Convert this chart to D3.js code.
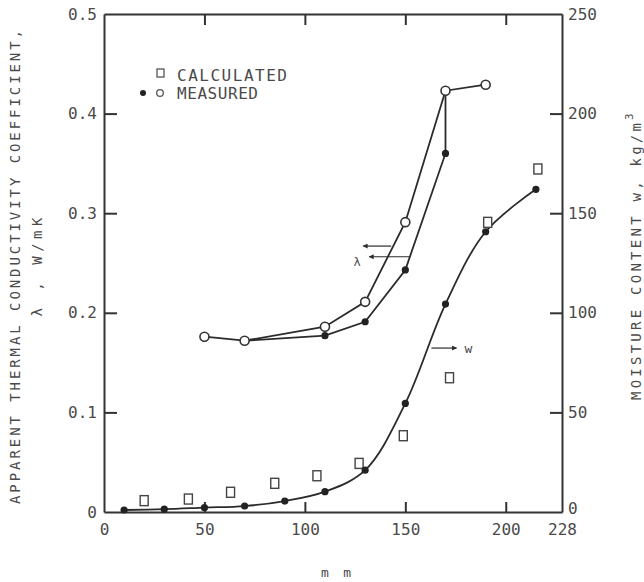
<!DOCTYPE html>
<html>
<head>
    <meta charset="utf-8">
    <title>Apparent thermal conductivity and moisture content</title>
    <script src="https://cdn.jsdelivr.net/npm/d3@7"></script>
    <style>
        body {
            margin: 0;
            background: white;
        }
        text {
            font-family: "DejaVu Sans Mono", monospace;
            fill: #4a4a4a;
        }
        .axis path, .axis line {
            stroke: #333;
            stroke-width: 2;
        }
        .axis text {
            font-family: "DejaVu Sans Mono", monospace;
            font-size: 16px;
            fill: #4a4a4a;
        }
        .data-line {
            fill: none;
            stroke: #2b2b2b;
            stroke-width: 1.8;
        }
    </style>
</head>
<body>
    <div id="chart"></div>
    <script>
        // lambda, measured - open circles
        const lamOpenX = [50, 70, 110, 130, 150, 170, 190];
        const lamOpenY = [0.176, 0.172, 0.186, 0.211, 0.291, 0.423, 0.429];
        // lambda, measured - filled dots
        const lamFillX = [110, 130, 150, 170];
        const lamFillY = [0.177, 0.191, 0.243, 0.360];
        // moisture content w, measured
        const wMeasX = [10, 30, 50, 70, 90, 110, 130, 150, 170, 190, 215];
        const wMeasY = [1, 1.4, 2.2, 3, 5.5, 10.2, 21, 54.5, 104.4, 140.7, 162];
        // moisture content w, calculated
        const wCalcX = [20, 42, 63, 85, 106, 127, 149, 172, 191, 216];
        const wCalcY = [5.7, 6.5, 9.9, 14.4, 18.2, 24.4, 38.3, 67.4, 145.4, 172.2];

        // tick labels
        const xTicks = [0, 50, 100, 150, 200, 228];
        const lamTicks = [0, 0.1, 0.2, 0.3, 0.4, 0.5];
        const wTicks = [0, 50, 100, 150, 200, 250];

        const W = 644, H = 582;
        const plot = {left: 104, right: 562, top: 14, bottom: 512};

        const svg = d3.select("#chart")
            .append("svg")
            .attr("width", W)
            .attr("height", H);

        const x = d3.scaleLinear().domain([0, 228]).range([plot.left, plot.right]);
        const yL = d3.scaleLinear().domain([0, 0.5]).range([plot.bottom, plot.top]);
        const yR = d3.scaleLinear().domain([0, 250]).range([plot.bottom, plot.top]);

        // arrow head
        svg.append("defs").append("marker")
            .attr("id", "arrow")
            .attr("viewBox", "0 0 10 10")
            .attr("refX", 9).attr("refY", 5)
            .attr("markerWidth", 7).attr("markerHeight", 5)
            .attr("markerUnits", "userSpaceOnUse")
            .attr("orient", "auto")
            .append("path")
            .attr("d", "M0,0 L10,5 L0,10 z")
            .attr("fill", "#2b2b2b");

        // axes (ticks point inward)
        const bottomAxis = svg.append("g")
            .attr("class", "axis")
            .attr("transform", `translate(0,${plot.bottom})`)
            .call(d3.axisBottom(x).tickValues(xTicks).tickSizeInner(-10).tickSizeOuter(0).tickPadding(12));
        bottomAxis.selectAll(".tick line").filter(d => d === 0 || d === 228).remove();

        svg.append("g")
            .attr("class", "axis")
            .attr("transform", `translate(0,${plot.top})`)
            .call(d3.axisTop(x).tickValues([50, 100, 150, 200]).tickSizeInner(-11).tickSizeOuter(0).tickFormat(""));

        const leftAxis = svg.append("g")
            .attr("class", "axis")
            .attr("transform", `translate(${plot.left},0)`)
            .call(d3.axisLeft(yL).tickValues(lamTicks).tickSizeInner(-13).tickSizeOuter(0).tickPadding(7)
                .tickFormat(d => d === 0 ? "0" : d.toFixed(1)));
        leftAxis.selectAll(".tick line").filter(d => d === 0 || d === 0.5).remove();

        const rightAxis = svg.append("g")
            .attr("class", "axis")
            .attr("transform", `translate(${plot.right},0)`)
            .call(d3.axisRight(yR).tickValues(wTicks).tickSizeInner(-12).tickSizeOuter(0).tickPadding(6));
        rightAxis.selectAll(".tick line").filter(d => d === 0 || d === 250).remove();
        // lift the right-hand 0 a little so it clears the 228 below it
        rightAxis.selectAll(".tick text").filter(d => d === 0).attr("dy", "0.12em");

        // axis titles
        svg.append("text")
            .attr("transform", "translate(20,267) rotate(-90)")
            .attr("text-anchor", "middle")
            .attr("font-size", 14)
            .attr("textLength", 474)
            .attr("lengthAdjust", "spacing")
            .text("APPARENT THERMAL CONDUCTIVITY COEFFICIENT,");

        svg.append("text")
            .attr("transform", "translate(42,267) rotate(-90)")
            .attr("text-anchor", "middle")
            .attr("font-size", 14)
            .attr("textLength", 99)
            .attr("lengthAdjust", "spacing")
            .text("λ , W/mK");

        svg.append("text")
            .attr("transform", "translate(641,400) rotate(-90)")
            .attr("font-size", 14)
            .attr("textLength", 277)
            .attr("lengthAdjust", "spacing")
            .text("MOISTURE CONTENT  w, kg/m");

        svg.append("text")
            .attr("transform", "translate(641,400) rotate(-90)")
            .attr("x", 280).attr("y", -8)
            .attr("font-size", 11)
            .text("3");

        svg.append("text")
            .attr("x", 336).attr("y", 577)
            .attr("text-anchor", "middle")
            .attr("font-size", 13)
            .attr("textLength", 30)
            .attr("lengthAdjust", "spacing")
            .text("mm");

        // lines
        const lamOpen = lamOpenX.map((d, i) => [d, lamOpenY[i]]);
        const lamFill = lamFillX.map((d, i) => [d, lamFillY[i]]);
        const wMeas = wMeasX.map((d, i) => [d, wMeasY[i]]);
        const wCalc = wCalcX.map((d, i) => [d, wCalcY[i]]);

        const lamLine = d3.line().x(d => x(d[0])).y(d => yL(d[1]));
        const wLine = d3.line().x(d => x(d[0])).y(d => yR(d[1])).curve(d3.curveCatmullRom);

        svg.append("path").attr("class", "data-line").attr("d", lamLine(lamOpen));
        // filled series branches off the 70 mm circle and rejoins at 170 mm
        svg.append("path").attr("class", "data-line")
            .attr("d", lamLine([lamOpen[1], ...lamFill, lamOpen[5]]));
        svg.append("path").attr("class", "data-line").attr("stroke-width", 2).attr("d", wLine(wMeas));

        // markers
        svg.selectAll(".w-calc")
            .data(wCalc)
            .join("rect")
            .attr("class", "w-calc")
            .attr("x", d => x(d[0]) - 4)
            .attr("y", d => yR(d[1]) - 5)
            .attr("width", 8).attr("height", 10)
            .attr("fill", "white")
            .attr("stroke", "#444")
            .attr("stroke-width", 1.4);

        svg.selectAll(".w-meas")
            .data(wMeas)
            .join("circle")
            .attr("class", "w-meas")
            .attr("cx", d => x(d[0]))
            .attr("cy", d => yR(d[1]))
            .attr("r", 3.6)
            .attr("fill", "#222");

        svg.selectAll(".lam-fill")
            .data(lamFill)
            .join("circle")
            .attr("class", "lam-fill")
            .attr("cx", d => x(d[0]))
            .attr("cy", d => yL(d[1]))
            .attr("r", 3.6)
            .attr("fill", "#222");

        svg.selectAll(".lam-open")
            .data(lamOpen)
            .join("circle")
            .attr("class", "lam-open")
            .attr("cx", d => x(d[0]))
            .attr("cy", d => yL(d[1]))
            .attr("r", 4.5)
            .attr("fill", "white")
            .attr("stroke", "#333")
            .attr("stroke-width", 1.6);

        // annotations
        const ann = svg.append("g");
        ann.append("line")
            .attr("x1", x(143)).attr("x2", x(129))
            .attr("y1", yL(0.267)).attr("y2", yL(0.267))
            .attr("stroke", "#2b2b2b").attr("stroke-width", 1.2)
            .attr("marker-end", "url(#arrow)");
        ann.append("line")
            .attr("x1", x(152.3)).attr("x2", x(132))
            .attr("y1", yL(0.2563)).attr("y2", yL(0.2563))
            .attr("stroke", "#2b2b2b").attr("stroke-width", 1.2)
            .attr("marker-end", "url(#arrow)");
        ann.append("text")
            .attr("x", x(126)).attr("y", yL(0.2515))
            .attr("dy", "0.35em")
            .attr("text-anchor", "middle")
            .attr("font-family", "DejaVu Sans")
            .attr("font-size", 12)
            .text("λ");
        ann.append("line")
            .attr("x1", x(163)).attr("x2", x(175.5))
            .attr("y1", yR(82.3)).attr("y2", yR(82.3))
            .attr("stroke", "#2b2b2b").attr("stroke-width", 1.2)
            .attr("marker-end", "url(#arrow)");
        ann.append("text")
            .attr("x", x(179.5)).attr("y", yR(82.3))
            .attr("dy", "0.35em")
            .attr("font-family", "DejaVu Sans")
            .attr("font-size", 13)
            .text("w");

        // legend
        const legend = svg.append("g");
        legend.append("rect")
            .attr("x", 157).attr("y", 69)
            .attr("width", 7).attr("height", 8)
            .attr("fill", "white").attr("stroke", "#555").attr("stroke-width", 1.3);
        legend.append("text")
            .attr("x", 177).attr("y", 81)
            .attr("font-size", 16)
            .attr("textLength", 110)
            .attr("lengthAdjust", "spacing")
            .text("CALCULATED");
        legend.append("circle")
            .attr("cx", 143).attr("cy", 93).attr("r", 3)
            .attr("fill", "#222");
        legend.append("circle")
            .attr("cx", 160).attr("cy", 93).attr("r", 3.3)
            .attr("fill", "white").attr("stroke", "#555").attr("stroke-width", 1.3);
        legend.append("text")
            .attr("x", 177).attr("y", 99)
            .attr("font-size", 16)
            .attr("textLength", 81)
            .attr("lengthAdjust", "spacing")
            .text("MEASURED");
    </script>
</body>
</html>
